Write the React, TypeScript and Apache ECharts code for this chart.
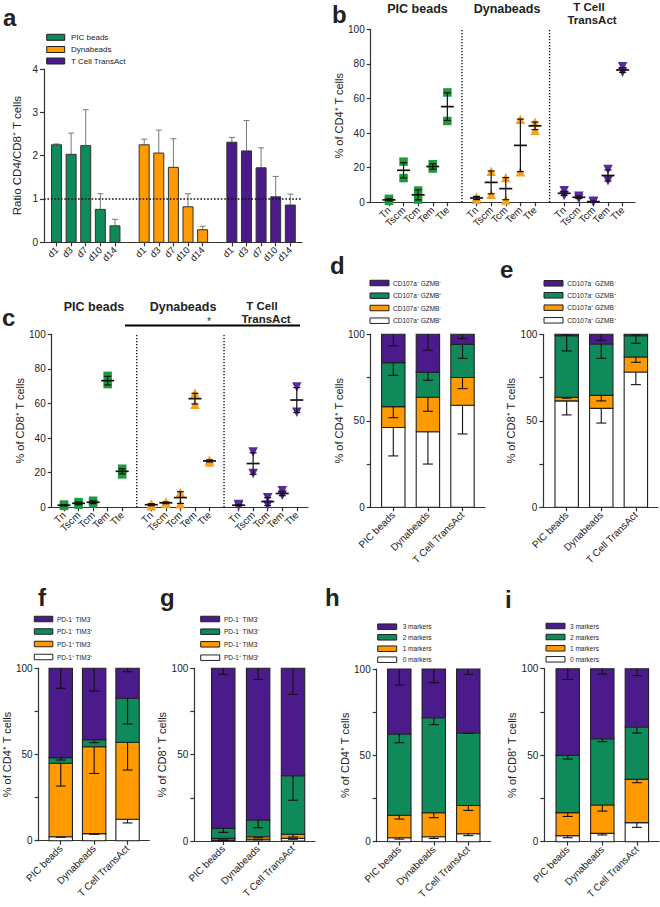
import React, { useEffect, useRef } from 'react';
import * as echarts from 'echarts';

// ---------------- DATA ----------------
const groups = ['PIC beads', 'Dynabeads', 'T Cell TransAct'];
const days = ['d1', 'd3', 'd7', 'd10', 'd14'];
const subsets = ['Tn', 'Tscm', 'Tcm', 'Tem', 'Tte'];

// panel a: ratio CD4/CD8 (mean, SD)
const ratioPic = [2.25, 2.03, 2.23, 0.76, 0.38];
const ratioPicSd = [0.02, 0.49, 0.83, 0.36, 0.15];
const ratioDyna = [2.25, 2.06, 1.73, 0.82, 0.29];
const ratioDynaSd = [0.13, 0.53, 0.66, 0.3, 0.08];
const ratioTA = [2.31, 2.11, 1.72, 1.05, 0.86];
const ratioTASd = [0.11, 0.7, 0.46, 0.47, 0.25];
const ratioRef = 1;

// panel b: % of CD4+ T cells (two donors per subset, mean, error)
const cd4PicPts = [[2.0, 0.8], [23.5, 14.0], [6.8, 1.6], [22.0, 19.5], [63.5, 47.0]];
const cd4PicMean = [1.4, 18.5, 4.3, 20.7, 55.3];
const cd4PicErr = [0.6, 4.4, 2.9, 1.6, 8.0];
const cd4DynaPts = [[3.0, 1.8], [18.0, 4.6], [14.3, 1.4], [48.0, 17.7], [46.2, 41.6]];
const cd4DynaMean = [2.5, 11.5, 7.9, 32.9, 44.2];
const cd4DynaErr = [0.9, 6.6, 6.4, 15.2, 2.2];
const cd4TAPts = [[6.7, 4.0], [3.5, 2.2], [0.6, 0.2], [19.0, 12.5], [78.4, 75.2]];
const cd4TAMean = [5.2, 2.9, 0.4, 15.5, 76.5];
const cd4TAErr = [1.2, 0.7, 0.2, 3.2, 1.4];

// panel c: % of CD8+ T cells
const cd8PicPts = [[1.6, 0.8], [3.0, 1.5], [3.8, 2.2], [76.0, 71.2], [22.3, 19.0]];
const cd8PicMean = [1.2, 2.3, 2.9, 73.2, 20.8];
const cd8PicErr = [0.4, 0.8, 0.8, 2.5, 1.5];
const cd8DynaPts = [[2.0, 0.9], [3.0, 2.2], [8.6, 2.0], [66.0, 59.5], [27.4, 26.2]];
const cd8DynaMean = [1.5, 2.6, 5.6, 62.8, 26.8];
const cd8DynaErr = [0.6, 0.5, 3.4, 3.1, 0.6];
const cd8TAPts = [[1.6, 0.8], [32.0, 19.5], [5.5, 1.2], [9.6, 7.0], [69.5, 55.0]];
const cd8TAMean = [1.2, 25.3, 3.3, 8.0, 62.0];
const cd8TAErr = [0.4, 6.2, 2.3, 1.3, 7.2];

// stacked panels: layers bottom -> top (white, orange, green, purple), values per group
const degranLabels = ['CD107a\u207B GZMB\u207B', 'CD107a\u207B GZMB\u207A', 'CD107a\u207A GZMB\u207B', 'CD107a\u207A GZMB\u207A'];
const exhLabels = ['PD-1\u207B TIM3\u207B', 'PD-1\u207B TIM3\u207A', 'PD-1\u207A TIM3\u207B', 'PD-1\u207A TIM3\u207A'];
const markerLabels = ['3 markers', '2 markers', '1 markers', '0 markers'];

const dSeg = [[46.1, 43.7, 59.0], [12.1, 19.9, 16.0], [25.4, 14.4, 19.2], [16.4, 22.0, 5.8]];
const dSd = [[16.4, 18.7, 16.6], [6.4, 8.1, 6.4], [7.3, 4.6, 8.1], [6.6, 9.2, 2.5]];
const eSeg = [[61.5, 57.2, 78.2], [2.1, 7.5, 8.7], [35.6, 29.7, 12.3], [0.8, 5.6, 0.8]];
const eSd = [[8.1, 8.5, 7.3], [0.5, 3.2, 3.1], [8.8, 8.3, 4.4], [0.5, 3.5, 0.5]];
const fSeg = [[2.3, 4.1, 12.4], [42.6, 50.4, 44.7], [3.3, 4.1, 25.5], [51.8, 41.4, 17.4]];
const fSd = [[0.3, 0.4, 2.1], [13.2, 15.5, 16.1], [1.4, 1.7, 14.9], [11.6, 13.2, 2.0]];
const gSeg = [[0.6, 1.0, 1.5], [0.9, 1.5, 2.4], [5.8, 9.7, 33.9], [92.7, 87.8, 62.2]];
const gSd = [[0.2, 0.3, 0.5], [0.3, 0.6, 1.6], [2.3, 4.5, 14.2], [3.5, 6.4, 15.1]];
const hSeg = [[2.3, 2.9, 4.6], [13.0, 13.9, 16.4], [47.1, 55.0, 41.9], [37.6, 28.2, 37.1]];
const hSd = [[0.8, 1.0, 1.1], [2.2, 2.9, 2.9], [5.1, 4.0, 0.2], [9.3, 7.9, 3.1]];
const iSeg = [[3.5, 4.8, 11.0], [13.3, 16.4, 25.0], [33.1, 38.3, 30.3], [50.1, 40.5, 33.7]];
const iSd = [[1.2, 0.9, 2.7], [2.2, 3.5, 1.9], [2.1, 1.7, 3.5], [6.2, 3.1, 4.0]];

// ---------------- STYLE ----------------
const FONT = "'Liberation Sans', Arial, Helvetica, sans-serif";
const GREEN = '#0e8a5b';
const ORANGE = '#ff9a00';
const PURPLE = '#4b1b8c';
const PT_GREEN = '#1e9b3a';
const PT_ORANGE = '#f8a21c';
const PT_PURPLE = '#5a2a9c';
const AX = '#333';
const TXT = '#222';
const stackColors = ['#ffffff', ORANGE, GREEN, PURPLE];

type Box = { left: number; top: number; right: number; bottom: number; xmin: number; xmax: number };
const boxA: Box = { left: 44, top: 69, right: 302, bottom: 242.3, xmin: -0.856, xmax: 16.8 };
const boxB: Box = { left: 370.7, top: 29.3, right: 635, bottom: 202.3, xmin: -1.25, xmax: 16.85 };
const boxC: Box = { left: 51.7, top: 334.3, right: 308, bottom: 507.3, xmin: -0.845, xmax: 16.77 };
const boxD: Box = { left: 370.7, top: 334.3, right: 485, bottom: 507.3, xmin: -0.653, xmax: 2.65 };
const boxE: Box = { left: 543.3, top: 334.3, right: 658, bottom: 507.3, xmin: -0.676, xmax: 2.64 };
const boxF: Box = { left: 34.3, top: 668.3, right: 149.3, bottom: 840.7, xmin: -0.663, xmax: 2.65 };
const boxG: Box = { left: 194.3, top: 668.3, right: 315, bottom: 841, xmin: -0.83, xmax: 2.63 };
const boxH: Box = { left: 376.7, top: 669, right: 490.7, bottom: 841.7, xmin: -0.655, xmax: 2.65 };
const boxI: Box = { left: 544.3, top: 668.7, right: 659, bottom: 841.7, xmin: -0.678, xmax: 2.64 };

const groupPos = (g: number, i: number) => g * 6 + i;

function gridOf(b: Box) {
  return { left: b.left, top: b.top, width: b.right - b.left, height: b.bottom - b.top, containLabel: false };
}

function xAxisOf(idx: number, b: Box, positions: number[], labelOf: (v: number) => string, fontSize: number) {
  return {
    type: 'value', gridIndex: idx, min: b.xmin, max: b.xmax,
    axisLine: { show: true, onZero: false, lineStyle: { color: AX, width: 1.2 } },
    axisTick: { show: true, length: 4, customValues: positions, lineStyle: { color: AX, width: 1.2 } },
    axisLabel: {
      show: true, customValues: positions, rotate: 45, margin: 6, fontSize, color: TXT, fontFamily: FONT,
      formatter: (v: number) => labelOf(v),
    },
    splitLine: { show: false },
  };
}

function yAxisOf(idx: number, max: number, interval: number, name: string, nameGap: number, labelFilter?: (v: number) => boolean) {
  return {
    type: 'value', gridIndex: idx, min: 0, max, interval,
    name, nameLocation: 'middle', nameGap,
    nameTextStyle: { fontSize: 11, color: TXT, fontFamily: FONT },
    axisLine: { show: true, onZero: false, lineStyle: { color: AX, width: 1.2 } },
    axisTick: { show: true, length: 4, lineStyle: { color: AX, width: 1.2 } },
    axisLabel: {
      fontSize: 10, color: TXT, fontFamily: FONT, margin: 6,
      formatter: (v: number) => (labelFilter && !labelFilter(v) ? '' : String(v)),
    },
    splitLine: { show: false },
  };
}

function ratioBars(idx: number, g: number, vals: number[], sds: number[], color: string) {
  return {
    type: 'custom', xAxisIndex: idx, yAxisIndex: idx, encode: { x: 0, y: 1 },
    data: vals.map((v, i) => [groupPos(g, i), v, sds[i]]),
    renderItem: (params: any, api: any) => {
      const x = api.value(0), v = api.value(1), sd = api.value(2);
      const top = api.coord([x, v]);
      const base = api.coord([x, 0]);
      const et = api.coord([x, v + sd]);
      const st = { stroke: '#777', lineWidth: 1 };
      return {
        type: 'group',
        children: [
          { type: 'line', shape: { x1: top[0], y1: top[1], x2: et[0], y2: et[1] }, style: st },
          { type: 'line', shape: { x1: et[0] - 3, y1: et[1], x2: et[0] + 3, y2: et[1] }, style: st },
          { type: 'rect', shape: { x: top[0] - 5, y: top[1], width: 10, height: base[1] - top[1] }, style: { fill: color, stroke: '#333', lineWidth: 1 } },
        ],
      };
    },
  };
}

function pointsSeries(idx: number, g: number, pts: number[][], color: string, symbol: string, rotate: number) {
  const data: number[][] = [];
  pts.forEach((pair, i) => pair.forEach((v) => data.push([groupPos(g, i), v])));
  return {
    type: 'scatter', xAxisIndex: idx, yAxisIndex: idx, data,
    symbol, symbolSize: symbol === 'rect' ? 8.5 : 9.5, symbolRotate: rotate,
    itemStyle: { color, opacity: 1 }, z: 2,
  };
}

function meanErrSeries(idx: number, g: number, means: number[], errs: number[]) {
  return {
    type: 'custom', xAxisIndex: idx, yAxisIndex: idx, encode: { x: 0, y: 1 }, z: 3,
    data: means.map((m, i) => [groupPos(g, i), m, errs[i]]),
    renderItem: (params: any, api: any) => {
      const x = api.value(0), m = api.value(1), e = api.value(2);
      const pm = api.coord([x, m]);
      const pt = api.coord([x, m + e]);
      const pb = api.coord([x, Math.max(0, m - e)]);
      const st = { stroke: '#111', lineWidth: 1.2 };
      return {
        type: 'group',
        children: [
          { type: 'line', shape: { x1: pt[0], y1: pt[1], x2: pb[0], y2: pb[1] }, style: st },
          { type: 'line', shape: { x1: pt[0] - 3.5, y1: pt[1], x2: pt[0] + 3.5, y2: pt[1] }, style: st },
          { type: 'line', shape: { x1: pb[0] - 3.5, y1: pb[1], x2: pb[0] + 3.5, y2: pb[1] }, style: st },
          { type: 'line', shape: { x1: pm[0] - 6.5, y1: pm[1], x2: pm[0] + 6.5, y2: pm[1] }, style: { stroke: '#111', lineWidth: 1.7 } },
        ],
      };
    },
  };
}

function vline(idx: number, x: number, y0: number, y1: number) {
  return {
    type: 'line', xAxisIndex: idx, yAxisIndex: idx, data: [[x, y0], [x, y1]],
    showSymbol: false, symbol: 'none', silent: true, clip: false,
    lineStyle: { color: '#111', width: 1.4, type: [1.4, 1.6] },
  };
}

function stackSeries(idx: number, seg: number[][], sd: number[][]) {
  return {
    type: 'custom', xAxisIndex: idx, yAxisIndex: idx, encode: { x: 0, y: 1 },
    data: [0, 1, 2].map((g) => [g, seg[0][g], seg[1][g], seg[2][g], seg[3][g], sd[0][g], sd[1][g], sd[2][g], sd[3][g]]),
    renderItem: (params: any, api: any) => {
      const x = api.value(0);
      const rects: any[] = [];
      const errs: any[] = [];
      let cum = 0;
      for (let k = 0; k < 4; k++) {
        const lo = cum;
        const hi = cum + api.value(1 + k);
        cum = hi;
        const p1 = api.coord([x, hi]);
        const p0 = api.coord([x, lo]);
        rects.push({
          type: 'rect', shape: { x: p1[0] - 11.7, y: p1[1], width: 23.4, height: p0[1] - p1[1] },
          style: { fill: stackColors[k], stroke: '#222', lineWidth: 1.1 },
        });
        const pe = api.coord([x, hi - api.value(5 + k)]);
        const st = { stroke: '#111', lineWidth: 1.1 };
        errs.push({ type: 'line', shape: { x1: p1[0], y1: p1[1], x2: pe[0], y2: pe[1] }, style: st });
        errs.push({ type: 'line', shape: { x1: pe[0] - 5, y1: pe[1], x2: pe[0] + 5, y2: pe[1] }, style: st });
      }
      return { type: 'group', children: rects.concat(errs) };
    },
  };
}

function txt(text: string, x: number, y: number, size: number, opts: any = {}) {
  return {
    type: 'text', x, y, silent: true,
    style: {
      text, fontSize: size, fontFamily: FONT, fontWeight: opts.bold ? 'bold' : 'normal', fill: opts.fill || TXT,
      align: opts.align || 'left', textAlign: opts.align || 'left',
      verticalAlign: 'middle', textVerticalAlign: 'middle',
    },
  };
}

function legend(sx: number, sw: number, sh: number, tx: number, rows: number[], labels: string[], colors: string[], size: number) {
  const out: any[] = [];
  rows.forEach((y, k) => {
    out.push({ type: 'rect', shape: { x: sx, y: y - sh / 2, width: sw, height: sh }, style: { fill: colors[k], stroke: '#222', lineWidth: 1 }, silent: true });
    out.push(txt(labels[k], tx, y, size));
  });
  return out;
}

export default function App() {
  const ref = useRef<HTMLDivElement>(null);
  useEffect(() => {
    if (!ref.current) return;
    const chart = echarts.init(ref.current, undefined, { renderer: 'svg' });

    const boxes = [boxA, boxB, boxC, boxD, boxE, boxF, boxG, boxH, boxI];
    const dayPositions = groups.flatMap((_, g) => days.map((_, i) => groupPos(g, i)));
    const subsetPositions = groups.flatMap((_, g) => subsets.map((_, i) => groupPos(g, i)));
    const dayLabel = (v: number) => days[Math.round(v) % 6] || '';
    const subsetLabel = (v: number) => subsets[Math.round(v) % 6] || '';
    const groupLabel = (v: number) => groups[Math.round(v)] || '';
    const halves = (v: number) => v % 50 === 0;

    const xAxes = [
      xAxisOf(0, boxA, dayPositions, dayLabel, 9.5),
      xAxisOf(1, boxB, subsetPositions, subsetLabel, 10),
      xAxisOf(2, boxC, subsetPositions, subsetLabel, 10),
      xAxisOf(3, boxD, [0, 1, 2], groupLabel, 10),
      xAxisOf(4, boxE, [0, 1, 2], groupLabel, 10),
      xAxisOf(5, boxF, [0, 1, 2], groupLabel, 10),
      xAxisOf(6, boxG, [0, 1, 2], groupLabel, 10),
      xAxisOf(7, boxH, [0, 1, 2], groupLabel, 10),
      xAxisOf(8, boxI, [0, 1, 2], groupLabel, 10),
    ];
    const cd4 = '% of CD4\u207A T cells';
    const cd8 = '% of CD8\u207A T cells';
    const yAxes = [
      yAxisOf(0, 4, 1, 'Ratio CD4/CD8\u207A T cells', 21),
      yAxisOf(1, 100, 20, cd4, 17),
      yAxisOf(2, 100, 20, cd8, 20.5),
      yAxisOf(3, 100, 25, cd4, 23, halves),
      yAxisOf(4, 100, 25, cd8, 22, halves),
      yAxisOf(5, 100, 25, cd4, 25, halves),
      yAxisOf(6, 100, 25, cd8, 16.5, halves),
      yAxisOf(7, 100, 25, cd4, 22.5, halves),
      yAxisOf(8, 100, 25, cd8, 23, halves),
    ];
    (yAxes[0] as any).nameTextStyle.fontSize = 11.5;

    const series: any[] = [
      // panel a
      {
        type: 'line', xAxisIndex: 0, yAxisIndex: 0, data: [[boxA.xmin, ratioRef], [boxA.xmax, ratioRef]],
        showSymbol: false, symbol: 'none', silent: true, z: 4,
        lineStyle: { color: '#111', width: 1.6, type: [1.6, 1.8] },
      },
      ratioBars(0, 0, ratioPic, ratioPicSd, GREEN),
      ratioBars(0, 1, ratioDyna, ratioDynaSd, ORANGE),
      ratioBars(0, 2, ratioTA, ratioTASd, PURPLE),
      // panel b
      vline(1, 5, 0, 100), vline(1, 11, 0, 100),
      pointsSeries(1, 0, cd4PicPts, PT_GREEN, 'rect', 0),
      pointsSeries(1, 1, cd4DynaPts, PT_ORANGE, 'triangle', 0),
      pointsSeries(1, 2, cd4TAPts, PT_PURPLE, 'triangle', 180),
      meanErrSeries(1, 0, cd4PicMean, cd4PicErr),
      meanErrSeries(1, 1, cd4DynaMean, cd4DynaErr),
      meanErrSeries(1, 2, cd4TAMean, cd4TAErr),
      // panel c
      vline(2, 5, 0, 100), vline(2, 11, 0, 100),
      pointsSeries(2, 0, cd8PicPts, PT_GREEN, 'rect', 0),
      pointsSeries(2, 1, cd8DynaPts, PT_ORANGE, 'triangle', 0),
      pointsSeries(2, 2, cd8TAPts, PT_PURPLE, 'triangle', 180),
      meanErrSeries(2, 0, cd8PicMean, cd8PicErr),
      meanErrSeries(2, 1, cd8DynaMean, cd8DynaErr),
      meanErrSeries(2, 2, cd8TAMean, cd8TAErr),
      // stacked panels
      stackSeries(3, dSeg, dSd),
      stackSeries(4, eSeg, eSd),
      stackSeries(5, fSeg, fSd),
      stackSeries(6, gSeg, gSd),
      stackSeries(7, hSeg, hSd),
      stackSeries(8, iSeg, iSd),
    ];

    const legColors = [PURPLE, GREEN, ORANGE, '#ffffff'];
    const graphic: any[] = [
      // panel letters
      txt('a', 3, 17, 24, { bold: true }),
      txt('b', 332, 14, 24, { bold: true }),
      txt('c', 2, 317, 24, { bold: true }),
      txt('d', 330, 265, 24, { bold: true }),
      txt('e', 500, 269, 24, { bold: true }),
      txt('f', 38, 597, 24, { bold: true }),
      txt('g', 160, 597, 24, { bold: true }),
      txt('h', 325, 597, 24, { bold: true }),
      txt('i', 505, 599, 24, { bold: true }),
      // panel b titles
      txt('PIC beads', 417.5, 8.5, 12.5, { bold: true, align: 'center' }),
      txt('Dynabeads', 507, 8.5, 12.5, { bold: true, align: 'center' }),
      txt('T Cell', 589, 6.5, 11.5, { bold: true, align: 'center' }),
      txt('TransAct', 592, 20, 11.5, { bold: true, align: 'center' }),
      // panel c titles
      txt('PIC beads', 94, 307, 12.5, { bold: true, align: 'center' }),
      txt('Dynabeads', 183, 307, 12.5, { bold: true, align: 'center' }),
      txt('T Cell', 262, 305.5, 11.5, { bold: true, align: 'center' }),
      txt('TransAct', 266, 319, 11.5, { bold: true, align: 'center' }),
      { type: 'line', silent: true, shape: { x1: 125, y1: 325.5, x2: 300, y2: 325.5 }, style: { stroke: '#000', lineWidth: 2.2 } },
      txt('*', 209, 321, 10, { align: 'center' }),
      // legends
      ...legend(46.7, 18, 6, 71, [37.3, 49.5, 61], groups, [GREEN, ORANGE, PURPLE], 8),
      ...legend(370, 19, 5.5, 393, [283, 295.7, 308, 320.7], degranLabels, legColors, 6.5),
      ...legend(544, 19, 5.5, 567.3, [283.3, 295.3, 307.7, 320.3], degranLabels, legColors, 6.5),
      ...legend(34.3, 18.5, 5.5, 57, [619, 631.5, 644, 657], exhLabels, legColors, 6.5),
      ...legend(200.7, 19, 5.5, 224, [619, 631.7, 644.3, 657.7], exhLabels, legColors, 6.5),
      ...legend(377.7, 19, 5.5, 402.7, [626.7, 637.3, 648.7, 659.7], markerLabels, legColors, 6.5),
      ...legend(546, 19, 5.5, 570, [626, 637, 648.3, 659.3], markerLabels, legColors, 6.5),
    ];

    chart.setOption({
      animation: false,
      backgroundColor: '#ffffff',
      textStyle: { fontFamily: FONT },
      grid: boxes.map(gridOf),
      xAxis: xAxes,
      yAxis: yAxes,
      series,
      graphic,
    });
    return () => chart.dispose();
  }, []);
  return <div ref={ref} style={{ position: 'absolute', left: 0, top: 0, width: 660, height: 907, background: '#fff' }} />;
}
